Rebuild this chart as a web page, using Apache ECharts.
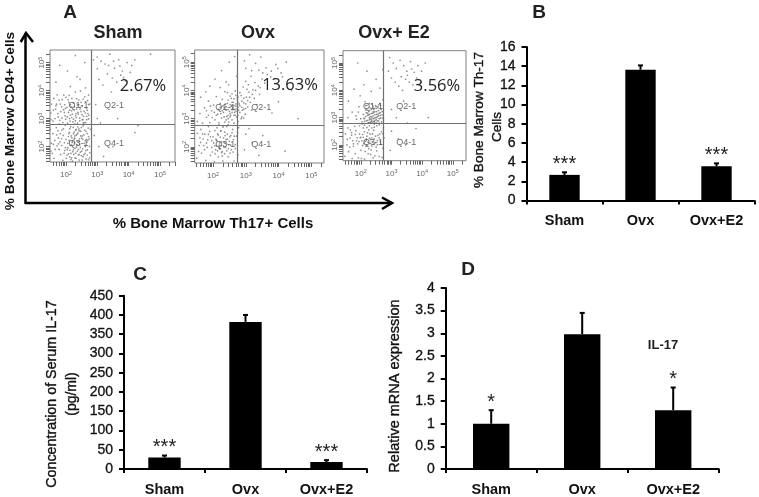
<!DOCTYPE html>
<html><head><meta charset="utf-8">
<style>html,body{margin:0;padding:0;background:#fff}#c{width:759px;height:497px;filter:blur(0.35px)}</style>
<script src="https://cdn.jsdelivr.net/npm/echarts@6/dist/echarts.min.js"></script>
</head><body><div id="c"></div>
<script>
const categories = ['Sham','Ovx','Ovx+E2'];
const thValues = [2.67,13.63,3.56];
const thErrTops = [2.94,14.08,3.87];
const thStars = ['***','','***'];
const serumValues = [30,382,18];
const serumErrTops = [35,400,23];
const serumStars = ['***','','***'];
const mrnaValues = [1,2.98,1.3];
const mrnaErrTops = [1.3,3.45,1.8];
const mrnaStars = ['*','','*'];
const decades = [2,3,4,5];
const gateNames = ['Q1-1','Q2-1','Q3-1','Q4-1'];

// flow cytometry dots: x,y pairs in log10 x 100
const shamDots = [162,158,171,203,158,246,183,172,176,231,190,151,195,214,169,268,204,189,187,259,212,163,208,236,198,277,221,148,218,205,226,252,215,271,231,177,237,219,229,160,241,263,246,197,239,142,252,238,249,168,258,212,255,274,263,186,268,246,272,153,265,226,275,201,278,262,224,189,233,241,243,228,219,232,206,212,196,186,181,217,174,257,164,222,211,251,228,213,247,255,257,171,234,198,223,269,242,172,260,259,270,223,276,178,201,158,213,187,191,240,178,190,
226,226,232,262,236,184,244,208,250,184,216,176,208,174,238,248,254,226,262,200,268,170,272,236,220,215,228,238,200,226,242,152,252,152,264,156,186,204,152,184,154,212,
158,291,167,334,161,372,175,305,182,352,172,385,190,286,195,322,188,368,203,340,199,298,210,383,214,312,209,358,222,288,226,331,219,372,233,303,237,349,230,395,244,292,248,325,241,366,256,308,252,344,263,286,268,330,260,378,272,299,276,352,228,281,205,284,183,325,246,399,216,342,239,316,178,280,165,300,196,350,224,356,255,285,270,318,234,371,213,291,187,302,
232,318,246,340,254,296,262,360,218,328,208,322,198,336,178,366,170,352,152,320,154,352,272,384,266,308,
168,430,205,470,230,525,245,440,214,415,260,500,180,490,262,410,235,450,
300,520,312,505,325,495,340,530,355,480,368,510,380,470,395,500,410,490,332,460,348,445,362,430,375,455,390,435,405,465,420,510,305,440,318,420,300,300,310,285,295,350,345,395,365,300,430,275,290,240,305,200,350,200,320,165,420,250,336,490,352,505,372,488,384,446,300,478,288,510,470,530];
const shamCore = [222,182,229,194,236,206,243,218,250,230,257,242,264,254,271,266,218,160,225,172,232,158,239,170,246,180,253,192,260,204,267,216,274,228,214,204,221,218,228,230,235,244,242,256,249,268,256,280,210,222,217,238,224,246,231,258,238,270,203,170,206,196,209,246,212,264,216,154,240,190,247,238,254,164,261,176,268,188,275,160,198,196,194,176,192,264,186,228,182,246,176,210,
230,292,237,284,244,302,251,314,258,326,265,338,272,350,224,298,231,310,238,322,245,334,252,296,259,286,266,296,273,312,218,304,211,300,204,306,197,310,192,332,186,342,180,294,174,318,168,346,212,330,220,316,227,342,234,334,241,350,248,358,255,370,262,320,269,364,214,350,207,368,200,376,193,384,160,330,
170,242,166,190,160,208,156,176,150,262,152,296];
const ovxDots = [150,160,158,205,152,248,165,178,170,228,163,262,178,152,182,198,175,245,186,272,192,170,196,222,190,255,204,148,208,190,200,236,212,268,216,165,220,214,214,246,226,180,230,150,232,232,224,258,238,198,242,272,246,165,250,220,244,245,256,190,260,262,264,150,268,208,272,238,276,172,278,268,218,196,226,205,234,216,240,226,210,224,222,235,236,252,248,208,252,178,228,168,206,176,196,198,184,225,172,205,160,232,254,240,262,226,232,274,218,278,246,278,206,258,
152,290,160,318,168,284,174,338,180,305,186,362,190,286,196,328,202,348,206,296,210,378,214,316,218,286,222,340,226,302,228,368,232,322,236,288,238,352,242,308,244,392,246,332,248,288,252,350,254,312,256,372,258,296,260,338,262,358,264,284,266,322,268,398,270,344,272,306,274,368,276,290,278,330,280,352,224,318,230,344,240,330,250,326,256,344,264,332,270,352,234,306,244,354,258,322,268,312,276,312,236,396,222,410,248,420,
286,300,290,330,294,356,298,316,302,376,306,342,310,394,314,358,318,330,322,402,326,372,334,350,342,386,286,382,292,412,300,432,308,420,316,450,328,428,338,416,350,440,
206,440,226,470,250,500,272,450,266,520,240,430,190,415,178,395,162,376,
296,505,312,526,330,496,346,518,362,480,378,468,392,492,408,462,340,472,352,462,366,456,376,448,388,442,398,478,412,448,424,500,318,470,300,478,440,400,460,300,400,360,380,320,300,245,320,215,352,240,296,190,340,170,420,185,310,265];
const ovxCore = [202,214,209,228,216,242,223,256,230,270,237,240,244,228,251,236,258,250,265,238,198,182,205,204,212,222,219,206,226,218,233,200,240,212,247,194,254,206,261,182,268,194,275,250,192,236,186,244,180,214,174,190,168,246,162,216,156,184,214,186,221,192,228,184,235,176,242,186,210,204,
246,300,252,318,258,332,264,346,270,334,276,358,282,346,288,340,294,372,300,352,306,364,252,340,258,358,264,312,270,326,276,340,282,322,288,362,294,334,240,296,234,338,228,328,222,354,216,332,210,312,204,322,198,304,192,344,186,312,180,328,246,312,252,306,258,346,264,370,270,382,276,376,282,392,288,306,294,302,300,336,240,342,246,366,252,380,258,388,
304,404,312,376,320,386,330,400,344,410,358,426];
const e2Dots = [148,158,155,200,150,240,160,175,165,225,158,262,172,150,176,195,170,245,182,168,186,215,180,268,192,152,196,240,200,180,204,215,208,262,212,148,216,195,220,232,224,168,226,255,230,205,234,182,238,240,240,152,244,265,248,208,252,178,256,235,260,158,264,212,268,248,272,188,276,226,218,215,222,244,228,225,210,205,206,238,198,226,190,204,244,222,236,226,254,200,262,240,214,176,184,252,166,255,174,215,202,150,232,165,246,160,270,154,274,262,
158,300,172,320,186,294,194,340,204,284,208,312,212,296,216,328,218,288,220,345,222,308,224,282,226,322,228,292,230,336,232,304,234,286,236,350,238,316,240,296,242,330,244,284,246,310,248,344,250,292,252,322,254,304,256,338,258,288,260,316,262,352,264,298,266,330,268,284,270,310,272,366,274,292,230,282,236,302,244,298,226,310,250,282,218,318,242,318,260,296,238,282,256,312,228,352,214,358,
198,380,178,404,210,420,234,396,250,440,220,470,262,408,272,476,190,500,160,360,
294,520,306,500,316,480,328,510,340,490,350,470,362,505,374,466,386,490,398,470,410,500,332,450,346,440,358,430,370,420,382,445,395,428,300,445,312,430,324,415,336,400,352,455,366,478,290,470,300,330,316,300,340,360,352,280,300,250,322,222,346,200,296,180,420,300,380,260];
const e2Core = [194,212,200,228,206,198,212,248,218,222,224,210,230,240,236,196,242,254,248,232,254,216,260,226,266,202,272,240,188,226,182,238,176,204,170,236,164,192,156,220,196,270,204,276,212,272,220,264,228,270,236,262,244,276,252,270,260,274,208,228,214,212,220,198,226,186,232,220,238,210,244,202,250,192,
222,290,228,300,234,294,240,306,246,290,252,300,258,306,264,318,270,298,216,304,222,316,228,326,234,314,240,322,246,334,252,312,258,326,264,344,270,322,210,298,216,344,228,312,234,330,240,340,246,322,252,334,258,346,264,308,230,296,236,288,242,286,248,300,254,288,260,280,226,282,232,282,212,286,200,296,192,320,184,306];

const blk = '#000';
const chartFont = 'Liberation Sans';

function toPairs(flat){ const out=[]; for(let i=0;i<flat.length;i+=2) out.push([flat[i]/100,flat[i+1]/100]); return out; }

const minorOffsets = [.30,.48,.60,.70,.78,.85,.90,.95];
function tickList(lo,hi){
  const t=[];
  for(let d=1;d<=5;d++){ [0,...minorOffsets].forEach(o=>{ const v=d+o; if(v>=lo&&v<=hi) t.push(+v.toFixed(2)); }); }
  return t;
}

const grid=[],xAxis=[],yAxis=[],series=[];
function addFlow(box,xr,yr,gx,gy,labelPos,dots){
  const i=grid.length;
  grid.push({left:box[0],top:box[1],width:box[2],height:box[3],show:true,borderColor:'#808080',borderWidth:1,backgroundColor:'#fff'});
  const lab=(rot,m)=>({show:true,customValues:decades,rotate:rot,margin:m,color:'#666',fontSize:8,fontFamily:chartFont,
    formatter:v=>'10{s|'+v+'}',rich:{s:{fontSize:5.5,color:'#666',verticalAlign:'top',padding:[0,0,4,0]}}});
  xAxis.push({type:'value',gridIndex:i,min:xr[0],max:xr[1],axisLine:{show:false},splitLine:{show:false},
    axisTick:{show:true,length:4,customValues:tickList(xr[0],xr[1]),lineStyle:{color:'#666',width:1}},axisLabel:lab(0,8)});
  yAxis.push({type:'value',gridIndex:i,min:yr[0],max:yr[1],axisLine:{show:false},splitLine:{show:false},
    axisTick:{show:true,length:4,customValues:tickList(yr[0],yr[1]),lineStyle:{color:'#666',width:1}},axisLabel:lab(90,3)});
  series.push({type:'scatter',xAxisIndex:i,yAxisIndex:i,silent:true,symbolSize:1.7,itemStyle:{color:'#747474'},data:toPairs(dots),animation:false,
    markLine:{silent:true,animation:false,symbol:'none',label:{show:false},lineStyle:{color:'#707070',width:1.2,type:'solid'},
      data:[{xAxis:gx},{yAxis:gy}]}});
  series.push({type:'scatter',xAxisIndex:i,yAxisIndex:i,silent:true,symbolSize:0,animation:false,
    data:labelPos.map((p,k)=>({value:p,name:gateNames[k]})),
    label:{show:true,position:'inside',formatter:'{b}',color:'#444',fontSize:9,fontFamily:chartFont}});
}
addFlow([50,50,125,112],[1.49,5.48],[1.45,5.45],2.8,2.79,[[2.4,3.46],[3.53,3.46],[2.4,2.1],[3.53,2.1]],shamDots.concat(shamCore));
addFlow([194.7,50,129.3,113],[1.44,5.39],[1.43,5.43],2.75,2.78,[[2.37,3.39],[3.47,3.39],[2.37,2.07],[3.47,2.07]],ovxDots.concat(ovxCore));
addFlow([343,50.7,123,110],[1.42,5.43],[1.42,5.45],2.74,2.79,[[2.4,3.4],[3.48,3.4],[2.4,2.08],[3.48,2.08]],e2Dots.concat(e2Core));

function addBars(box,maxV,step,vals,tops,stars,capHalf){
  const i=grid.length;
  grid.push({left:box[0],top:box[1],width:box[2],height:box[3]});
  xAxis.push({type:'category',gridIndex:i,data:categories,
    axisLine:{lineStyle:{color:blk,width:2}},axisTick:{show:true,length:4,alignWithLabel:false,lineStyle:{color:blk,width:2}},
    axisLabel:{color:'#111',fontSize:14.5,fontWeight:'bold',fontFamily:chartFont,margin:13}});
  yAxis.push({type:'value',gridIndex:i,min:0,max:maxV,interval:step,splitLine:{show:false},
    axisLine:{show:true,lineStyle:{color:blk,width:2}},axisTick:{show:true,length:5,lineStyle:{color:blk,width:2}},
    axisLabel:{color:'#111',fontSize:14,fontFamily:chartFont,margin:11,textBorderColor:'#111',textBorderWidth:0.3}});
  series.push({type:'bar',xAxisIndex:i,yAxisIndex:i,data:vals,barWidth:'40%',itemStyle:{color:blk},silent:true,animation:false});
  series.push({type:'custom',xAxisIndex:i,yAxisIndex:i,silent:true,animation:false,z:3,
    data:categories.map((c,k)=>[k,vals[k],tops[k],stars[k]]),
    encode:{x:0,y:[1,2]},
    renderItem:(params,api)=>{
      const k=api.value(0), a=api.coord([k,api.value(1)]), b=api.coord([k,api.value(2)]);
      const st={stroke:blk,lineWidth:2};
      const kids=[
        {type:'line',shape:{x1:a[0],y1:a[1],x2:b[0],y2:b[1]},style:st},
        {type:'line',shape:{x1:b[0]-capHalf,y1:b[1],x2:b[0]+capHalf,y2:b[1]},style:st}
      ];
      const s=stars[k];
      if(s) kids.push({type:'text',x:b[0],y:b[1]-8,style:{text:s,fill:'#222',font:'20px "Liberation Sans"',textAlign:'center',textVerticalAlign:'middle'}});
      return {type:'group',children:kids};
    }});
}
addBars([526.5,47,228,153.5],16,2,thValues,thErrTops,thStars,2.5);
addBars([124,295.7,243,173.3],450,50,serumValues,serumErrTops,serumStars,2.5);
addBars([445.7,288,273,181],4,0.5,mrnaValues,mrnaErrTops,mrnaStars,2.5);

function txt(s,x,y,size,weight,rot,color,fam,thick){
  const style={text:s,fill:color||'#111',font:(weight||'normal')+' '+size+'px "'+(fam||chartFont)+'"',textAlign:'center',textVerticalAlign:'middle'};
  if(thick){ style.stroke=color||'#111'; style.lineWidth=thick; }
  return {type:'text',x:x,y:y,rotation:rot||0,silent:true,z:10,style};
}
const up=Math.PI/2;
const arrow={stroke:blk,lineWidth:2.5,fill:null};
const graphic=[
  txt('A',70,13,19,'bold',0,'#222'),txt('B',539,13,19,'bold',0,'#222'),txt('C',140,275,19,'bold',0,'#222'),txt('D',468,270,19,'bold',0,'#222'),
  txt('Sham',118,33,18,'bold',0,'#222'),txt('Ovx',258,33,18,'bold',0,'#222'),txt('Ovx+ E2',394,33,18,'bold',0,'#222'),
  txt('2.67%',143,86,16.5,'normal',0,'#222','Open Sans'),txt('13.63%',290,85,16.5,'normal',0,'#222','Open Sans'),txt('3.56%',437,86,16.5,'normal',0,'#222','Open Sans'),
  txt('% Bone Marrow CD4+ Cells',10,121,13.7,'bold',up),
  txt('% Bone Marrow Th17+ Cells',213,224,15,'bold'),
  txt('% Bone Marrow Th-17',479,120,13.6,'normal',up,'#111',null,0.35),txt('Cells',497,127,13.6,'normal',up,'#111',null,0.35),
  txt('Concentration of Serum IL-17',52,394,14.3,'normal',up,'#111',null,0.35),txt('(pg/ml)',72,394,14,'normal',up,'#111',null,0.35),
  txt('Relative mRNA expression',395,386,14.5,'normal',up,'#111',null,0.35),
  txt('IL-17',663,345,13,'bold',0,'#222'),
  {type:'polyline',silent:true,shape:{points:[[25.5,204],[25.5,33]]},style:arrow},
  {type:'polyline',silent:true,shape:{points:[[20.7,42],[26,33],[33,42]]},style:arrow},
  {type:'polyline',silent:true,shape:{points:[[25,203],[392,203]]},style:arrow},
  {type:'polyline',silent:true,shape:{points:[[382,197.5],[392,203],[382,209]]},style:arrow}
];
const chart=echarts.init(document.getElementById('c'),null,{renderer:'canvas'});
chart.setOption({backgroundColor:'#fff',animation:false,grid,xAxis,yAxis,series,graphic});
</script></body></html>
